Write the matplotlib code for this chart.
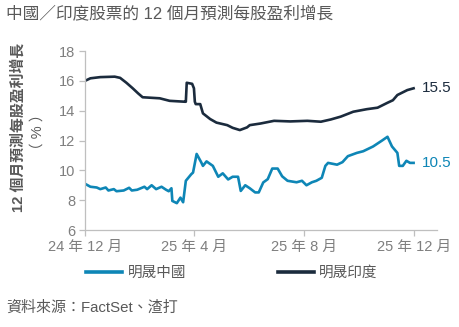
import matplotlib
matplotlib.use("Agg")
import matplotlib.pyplot as plt
import pandas as pd

plt.rcParams['font.family'] = ['Liberation Sans', 'Noto Sans CJK TC', 'DejaVu Sans']

# 12-month forward EPS growth (%)
china_dates = [
    "2024-12-01", "2024-12-07", "2024-12-14", "2024-12-18", "2024-12-24", "2024-12-27",
    "2025-01-02", "2025-01-05", "2025-01-13", "2025-01-19", "2025-01-22", "2025-01-28",
    "2025-02-05", "2025-02-08", "2025-02-13", "2025-02-18", "2025-02-24", "2025-03-01",
    "2025-03-04", "2025-03-07", "2025-03-08", "2025-03-13", "2025-03-17", "2025-03-20",
    "2025-03-23", "2025-03-29", "2025-03-31", "2025-04-04", "2025-04-09", "2025-04-11",
    "2025-04-15", "2025-04-22", "2025-04-28", "2025-05-03", "2025-05-09", "2025-05-14",
    "2025-05-20", "2025-05-23", "2025-05-28", "2025-06-02", "2025-06-08", "2025-06-12",
    "2025-06-17", "2025-06-22", "2025-06-27", "2025-07-03", "2025-07-08", "2025-07-14",
    "2025-07-24", "2025-07-30", "2025-08-04", "2025-08-10", "2025-08-15", "2025-08-21",
    "2025-08-25", "2025-08-28", "2025-09-07", "2025-09-13", "2025-09-19", "2025-09-29",
    "2025-10-06", "2025-10-17", "2025-10-27", "2025-11-02", "2025-11-07", "2025-11-13",
    "2025-11-15", "2025-11-19", "2025-11-23", "2025-11-27", "2025-12-01",
]
china_values = [
    9.1, 8.9, 8.85, 8.74, 8.85, 8.65,
    8.74, 8.6, 8.65, 8.83, 8.65, 8.7,
    8.9, 8.74, 9.0, 8.74, 8.9, 8.7,
    8.6, 8.8, 7.95, 7.8, 8.17, 7.86,
    9.3, 9.74, 9.85, 11.1, 10.55, 10.3,
    10.6, 10.3, 9.57, 9.8, 9.39, 9.57,
    9.57, 8.62, 9.0, 8.8, 8.52, 8.52,
    9.19, 9.41, 10.12, 10.12, 9.6, 9.3,
    9.2, 9.3, 9.0, 9.2, 9.3, 9.5,
    10.3, 10.5, 10.38, 10.55, 10.95, 11.17,
    11.28, 11.6, 12.0, 12.25, 11.6, 11.17,
    10.3, 10.3, 10.64, 10.5, 10.5,
]

india_dates = [
    "2024-12-01", "2024-12-07", "2024-12-18", "2025-01-03", "2025-01-09", "2025-01-16",
    "2025-01-23", "2025-01-29", "2025-02-03", "2025-02-22", "2025-03-05", "2025-03-22",
    "2025-03-23", "2025-03-24", "2025-03-30", "2025-04-01", "2025-04-02", "2025-04-03",
    "2025-04-08", "2025-04-11", "2025-04-19", "2025-04-26", "2025-05-08", "2025-05-14",
    "2025-05-22", "2025-05-30", "2025-06-02", "2025-06-14", "2025-06-29", "2025-07-17",
    "2025-08-05", "2025-08-20", "2025-08-31", "2025-09-11", "2025-09-25", "2025-10-10",
    "2025-10-22", "2025-11-02", "2025-11-08", "2025-11-13", "2025-11-24", "2025-12-01",
]
india_values = [
    16.0, 16.17, 16.25, 16.28, 16.2, 15.87,
    15.5, 15.16, 14.9, 14.83, 14.66, 14.6,
    14.6, 15.87, 15.8, 15.5, 14.6, 14.44,
    14.44, 13.82, 13.44, 13.2, 13.03, 12.85,
    12.7, 12.88, 13.03, 13.14, 13.32, 13.28,
    13.32, 13.26, 13.41, 13.6, 13.93, 14.1,
    14.2, 14.53, 14.7, 15.05, 15.38, 15.5,
]

series_names = ["明晟中國", "明晟印度"]
tick_dates = ["2024-12-01", "2025-04-01", "2025-08-01", "2025-12-01"]
tick_labels = ["24 年 12 月", "25 年 4 月", "25 年 8 月", "25 年 12 月"]
y_ticks = [6, 8, 10, 12, 14, 16, 18]

china_color = "#0E86B6"
india_color = "#1B2B3D"
text_gray = "#595959"
tick_gray = "#7F7F7F"
axis_gray = "#BFBFBF"

china = pd.Series(china_values, index=pd.to_datetime(china_dates))
india = pd.Series(india_values, index=pd.to_datetime(india_dates))

fig = plt.figure(figsize=(4.6, 3.27), dpi=100)
ax = fig.add_axes([0.1848, 0.2966, 0.7652, 0.5474])

ax.plot(china.index, china.values, color=china_color, lw=1.9, label=series_names[0],
        solid_joinstyle="round")
ax.plot(india.index, india.values, color=india_color, lw=1.9, label=series_names[1],
        solid_joinstyle="round")

ax.set_ylim(6, 18)
ax.set_yticks(y_ticks)
ax.set_xlim(pd.Timestamp("2024-12-01"), pd.Timestamp("2025-12-27"))
ax.set_xticks(pd.to_datetime(tick_dates))
ax.set_xticklabels(tick_labels)

for side in ("top", "right"):
    ax.spines[side].set_visible(False)
for side in ("left", "bottom"):
    ax.spines[side].set_color(axis_gray)
    ax.spines[side].set_linewidth(0.9)
ax.tick_params(axis="both", colors=axis_gray, length=4, width=0.9,
               labelcolor=tick_gray, labelsize=10.5)
ax.tick_params(axis="y", pad=3)
ax.tick_params(axis="x", pad=3)

# End-of-series value labels
ax.annotate(f"{india.values[-1]:.1f}", xy=(india.index[-1], india.values[-1]),
            xytext=(6, 0), textcoords="offset points", va="center", ha="left",
            color=india_color, fontsize=11)
ax.annotate(f"{china.values[-1]:.1f}", xy=(china.index[-1], china.values[-1]),
            xytext=(6, 0), textcoords="offset points", va="center", ha="left",
            color=china_color, fontsize=11)

# Titles and axis caption
fig.text(6 / 460, 1 - 13 / 327, "中國／印度股票的 12 個月預測每股盈利增長",
         ha="left", va="center", fontsize=12, color=text_gray)
fig.text(18 / 460, 1 - 127 / 327, "12 個月預測每股盈利增長", rotation=90,
         ha="center", va="center", fontsize=10.7, color=text_gray, fontweight="bold")
fig.text(38 / 460, 1 - 132 / 327, "（ % ）", rotation=90,
         ha="center", va="center", fontsize=10.5, color=text_gray)
fig.text(6 / 460, 1 - 308 / 327, "資料來源：FactSet、渣打",
         ha="left", va="center", fontsize=10.8, color=text_gray)

leg = fig.legend(loc="center left", bbox_to_anchor=(80 / 460, 1 - 273 / 327),
                 ncol=2, frameon=False, fontsize=10.5, handlelength=2.5,
                 columnspacing=6.3, handletextpad=0.35, borderaxespad=0)
for t in leg.get_texts():
    t.set_color(text_gray)
for h in leg.get_lines():
    h.set_linewidth(2.6)

fig.savefig("out.png", dpi=100)
